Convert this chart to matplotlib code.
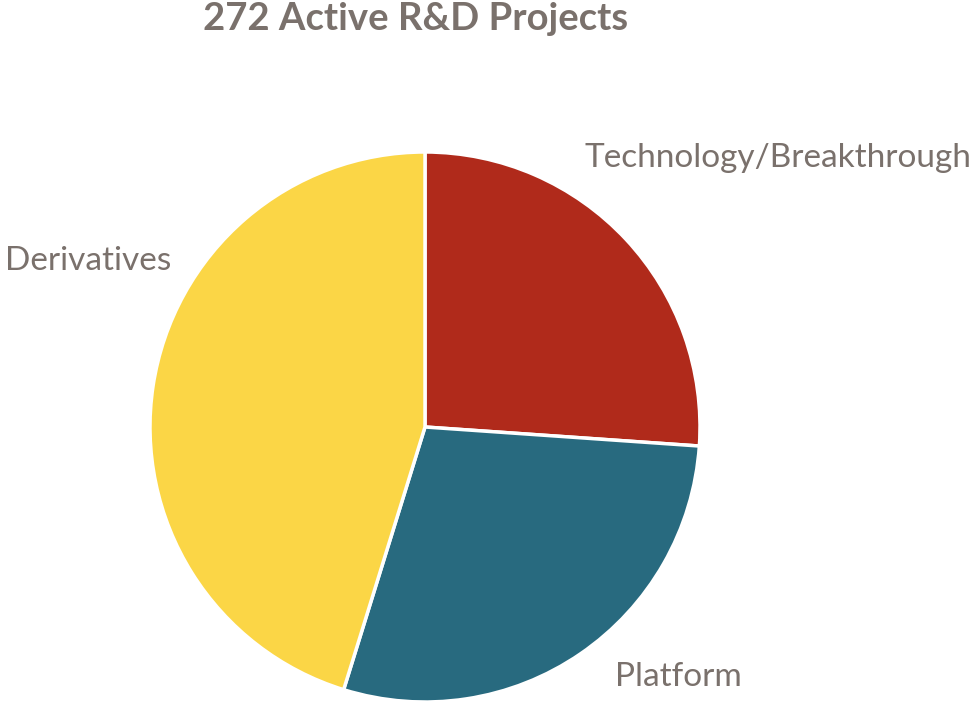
import matplotlib
matplotlib.use("Agg")
import matplotlib.pyplot as plt

categories = ["Technology/Breakthrough", "Platform", "Derivatives"]
values = [71, 78, 123]
colors = ["#B02A1B", "#286A7F", "#FBD646"]
title = "272 Active R&D Projects"
text_color = "#7A716C"

W, H = 979, 702
fig = plt.figure(figsize=(W / 100, H / 100), dpi=100)
cx, cy, r = 425, 427, 275
ax = fig.add_axes([(cx - r) / W, 1 - (cy + r) / H, 2 * r / W, 2 * r / H])
ax.pie(values, colors=colors, startangle=90, counterclock=False,
       wedgeprops=dict(edgecolor="white", linewidth=2.5))
ax.set_xlim(-1, 1)
ax.set_ylim(-1, 1)
ax.set_aspect("auto")
ax.axis("off")

fam = ["Lato", "DejaVu Sans"]
fig.text(416 / W, 1 - 30 / H, title, ha="center", va="baseline", fontsize=27.5,
         fontweight="bold", color=text_color, family=fam)

label_pos = {"Technology/Breakthrough": (585, 167, "left"),
             "Platform": (615, 686, "left"),
             "Derivatives": (5, 270, "left")}
for c in categories:
    x, y, ha = label_pos[c]
    fig.text(x / W, 1 - y / H, c, ha=ha, va="baseline", fontsize=24,
             color=text_color, family=fam)

fig.savefig("out.png", dpi=100)
